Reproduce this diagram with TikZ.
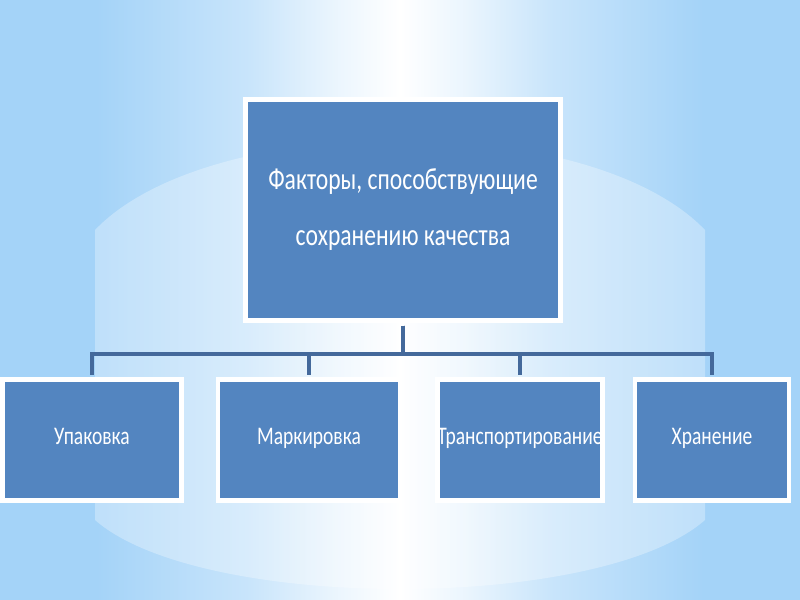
\documentclass[tikz,border=0pt]{standalone}
\usepackage{fontspec}
\setmainfont{Carlito}[FakeStretch=0.77]
\usepackage{tikz}
\usetikzlibrary{positioning,calc}
\definecolor{bgblue}{RGB}{164,211,248}
\colorlet{bgmid}{bgblue!60!white}
\colorlet{bglight}{bgblue!22!white}
\definecolor{boxblue}{RGB}{83,133,192}
\definecolor{linkblue}{RGB}{68,105,155}
\pgfdeclarehorizontalshading{bgband}{100bp}{color(0bp)=(bgblue); color(31bp)=(bgblue); color(40.5bp)=(bgmid); color(46bp)=(bglight); color(50bp)=(white); color(54bp)=(bglight); color(59.5bp)=(bgmid); color(69bp)=(bgblue); color(100bp)=(bgblue)}
\tikzstyle{block}    = [rectangle,
                        draw=white,
                        line width=3.5pt,
                        fill=boxblue,
                        text=white,
                        text centered,
                        inner sep=0pt,
                        text height=0.62em,
                        text depth=0pt,
                        minimum height=91pt,
                        font=\fontsize{19}{22}\selectfont]
\tikzstyle{line}     = [draw=linkblue, line width=3pt, shorten <=2pt, shorten >=1.5pt]

\begin{document}
\begin{tikzpicture}[%
  x=0.75pt,
  y=-0.75pt,
  % Top box:
  rootblock/.style={%
    block,
    minimum width=236pt,
    minimum height=166pt,
    text height=,
    text depth=,
    align=center,
    font=\fontsize{23}{42}\selectfont
  }
  ]
  \useasboundingbox (0,0) rectangle (800,600);

  % Background:
  \shade[shading=bgband] (0,0) rectangle (800,600);
  \fill[white, fill opacity=0.3] (95,230) .. controls (210,110) and (590,110) .. (705,230)
    -- (705,520) .. controls (600,612) and (200,612) .. (95,520) -- cycle;

  % Nodes:
  \node (t-root) [rootblock] at (403,210) {Факторы, способствующие\\сохранению качества};
  \node (t-pack) [block, minimum width=134.5pt] at (92,440) {Упаковка};
  \node (t-mark) [block, minimum width=136.5pt] at (309,440) {Маркировка};
  \node (t-trans) [block, minimum width=121.5pt] at (520,440) {Транспортирование};
  \node (t-store) [block, minimum width=115.5pt] at (712,440) {Хранение};
  \coordinate (t-bus) at (403,354);

  % Connectors:
  \foreach \child in {t-pack,t-mark,t-trans,t-store}
    \draw[line] (t-root.south) |- (\child.north |- t-bus) -- (\child.north);
\end{tikzpicture}
\end{document}
